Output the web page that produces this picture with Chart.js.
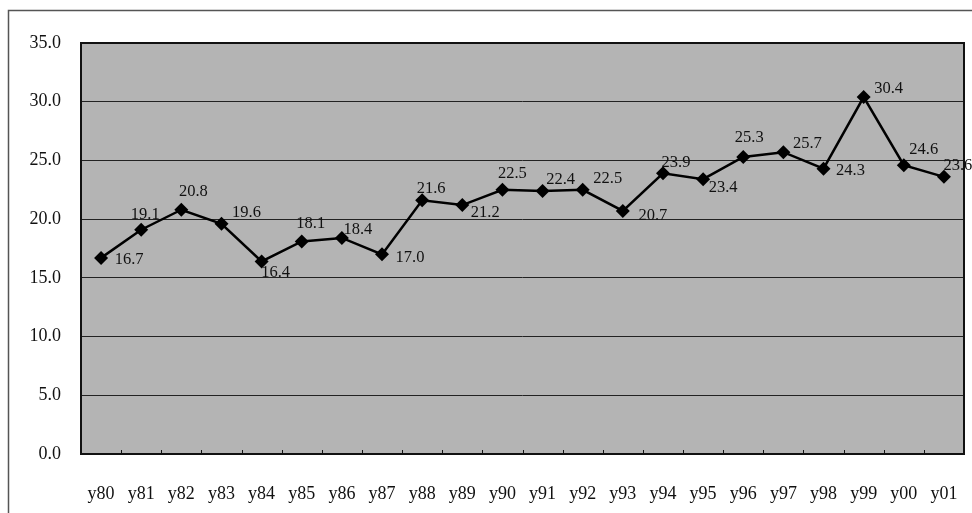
<!DOCTYPE html>
<html>
<head>
<meta charset="utf-8">
<script src="https://cdn.jsdelivr.net/npm/chart.js@4.4.0/dist/chart.umd.min.js"></script>
<style>
  html, body { margin: 0; padding: 0; background: #fff; }
  #wrap { position: relative; width: 972px; height: 513px; }
</style>
</head>
<body>
<div id="wrap"><canvas id="chart" width="972" height="513"></canvas></div>
<script>
// data
const years = ["y80","y81","y82","y83","y84","y85","y86","y87","y88","y89","y90",
               "y91","y92","y93","y94","y95","y96","y97","y98","y99","y00","y01"];
const values = [16.7, 19.1, 20.8, 19.6, 16.4, 18.1, 18.4, 17.0, 21.6, 21.2, 22.5,
                22.4, 22.5, 20.7, 23.9, 23.4, 25.3, 25.7, 24.3, 30.4, 24.6, 23.6];
const yTicks = [0, 5, 10, 15, 20, 25, 30, 35];

// centre of each value label relative to its marker (px)
const labelOffsets = [
  [28, 2], [4, -15], [12, -18], [25, -11], [14, 11], [9, -18], [16, -8], [28, 3],
  [9, -12], [23, 8], [10, -16], [18, -11], [25, -11], [30, 5], [13, -11], [20, 8],
  [6, -19], [24, -9], [27, 2], [25, -8], [20, -15], [14, -11]
];

const serif = "'Liberation Serif', 'DejaVu Serif', serif";

const frame = {
  id: 'frame',
  beforeDraw(chart) {
    const c = chart.ctx, a = chart.chartArea;
    c.save();
    // outer border of the sheet
    c.strokeStyle = '#555';
    c.lineWidth = 1.5;
    c.beginPath();
    c.moveTo(8.5, 513);
    c.lineTo(8.5, 10.5);
    c.lineTo(972, 10.5);
    c.stroke();
    // plot background
    c.fillStyle = '#b4b4b4';
    c.fillRect(a.left, a.top, a.right - a.left, a.bottom - a.top);
    c.restore();
  },
  afterDatasetsDraw(chart) {
    const c = chart.ctx, a = chart.chartArea;
    c.save();
    c.strokeStyle = '#111';
    c.lineWidth = 2;
    c.strokeRect(a.left, a.top, a.right - a.left, a.bottom - a.top);
    // small inward tick marks on the category axis
    const n = years.length, w = (a.right - a.left) / n;
    c.lineWidth = 1;
    c.beginPath();
    for (let i = 1; i < n; i++) {
      const x = Math.round(a.left + i * w) + 0.5;
      c.moveTo(x, a.bottom);
      c.lineTo(x, a.bottom - 4);
    }
    c.stroke();
    // value labels
    const meta = chart.getDatasetMeta(0);
    c.fillStyle = '#111';
    c.font = '16.5px ' + serif;
    c.textAlign = 'center';
    c.textBaseline = 'middle';
    meta.data.forEach((pt, i) => {
      const o = labelOffsets[i];
      c.fillText(values[i].toFixed(1), pt.x + o[0], pt.y + o[1]);
    });
    c.restore();
  }
};

new Chart(document.getElementById('chart'), {
  type: 'line',
  data: {
    labels: years,
    datasets: [{
      data: values,
      borderColor: '#000',
      borderWidth: 2.5,
      pointStyle: 'rectRot',
      pointRadius: 7,
      pointBackgroundColor: '#000',
      pointBorderColor: '#000',
      pointBorderWidth: 0,
      tension: 0
    }]
  },
  options: {
    responsive: false,
    animation: false,
    events: [],
    layout: { padding: { left: 0, top: 43, right: 8, bottom: 0 } },
    plugins: { legend: { display: false }, tooltip: { enabled: false } },
    scales: {
      x: {
        offset: true,
        grid: { display: false },
        border: { display: false },
        ticks: { color: '#111', font: { family: serif, size: 18 }, padding: 21, maxRotation: 0, autoSkip: false },
        afterFit(s) { s.height = 59; s.paddingLeft = 0; s.paddingRight = 0; }
      },
      y: {
        min: yTicks[0],
        max: yTicks[yTicks.length - 1],
        afterBuildTicks(s) { s.ticks = yTicks.map(v => ({ value: v })); },
        grid: { color: '#222', lineWidth: 1, drawTicks: false },
        border: { display: false },
        ticks: {
          color: '#111', font: { family: serif, size: 18 }, padding: 20,
          callback: v => Number(v).toFixed(1)
        },
        afterFit(s) { s.width = 81; s.paddingTop = 0; s.paddingBottom = 0; }
      }
    }
  },
  plugins: [frame]
});
</script>
</body>
</html>
